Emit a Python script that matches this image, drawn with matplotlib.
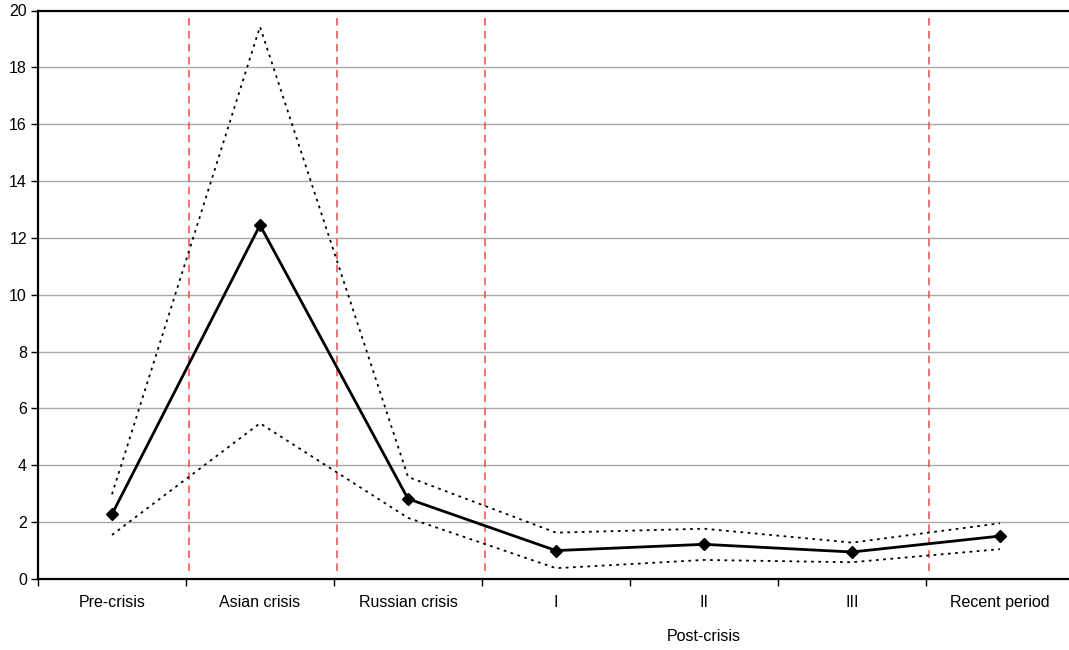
import matplotlib
matplotlib.use("Agg")
import matplotlib.pyplot as plt
import numpy as np

plt.rcParams['font.family'] = ['Liberation Sans', 'DejaVu Sans']

categories = ["Pre-crisis", "Asian crisis", "Russian crisis", "I", "II", "III", "Recent period"]
mean_vals = [2.28, 12.45, 2.82, 1.0, 1.22, 0.95, 1.51]
upper_vals = [2.98, 19.43, 3.59, 1.63, 1.77, 1.28, 1.96]
lower_vals = [1.55, 5.48, 2.15, 0.38, 0.67, 0.59, 1.05]
separators = [0.5, 1.5, 2.5, 5.5]
group_label = "Post-crisis"
yticks = list(range(0, 21, 2))

W, H = 1069, 650
fig = plt.figure(figsize=(W / 100, H / 100), dpi=100)
x0, x1 = 38, 1074
y_top, y_bot = 10.5, 579
ax = fig.add_axes([x0 / W, (H - y_bot) / H, (x1 - x0) / W, (y_bot - y_top) / H])

x = np.arange(len(categories))
ax.set_xlim(-0.5, len(categories) - 0.5)
ax.set_ylim(0, 20)

for yv in yticks[1:-1]:
    ax.axhline(yv, color='#a8a8a8', lw=1.0, zorder=1)

for s in separators:
    ax.plot([s + 0.02, s + 0.02], [0.28, 19.75], color='#ff4545', lw=1.1,
            dashes=(5, 3.5), zorder=2)

ax.plot(x, upper_vals, color='black', lw=1.3, ls=(0, (1.5, 2.5)), zorder=3)
ax.plot(x, lower_vals, color='black', lw=1.3, ls=(0, (1.5, 2.5)), zorder=3)
ax.plot(x, mean_vals, color='black', lw=2.0, marker='D', markersize=6, zorder=4)

ax.set_yticks(yticks)
ax.set_yticklabels([str(v) for v in yticks], fontsize=11.5)
ax.set_xticks(np.arange(-0.5, len(categories), 1.0))
ax.set_xticklabels([])
ax.tick_params(axis='x', direction='out', length=5, width=1, color='black')
ax.tick_params(axis='y', direction='out', length=5, width=1, color='black', pad=3)

for xi, lab in zip(x, categories):
    ax.text(xi, -23.5 / 28.43, lab, ha='center', va='center', fontsize=11.5,
            transform=ax.transData, clip_on=False)
ax.text(4, -58 / 28.43, group_label, ha='center', va='center', fontsize=11.5,
        transform=ax.transData, clip_on=False)

for side in ['left', 'top', 'bottom']:
    ax.spines[side].set_linewidth(1.6)
    ax.spines[side].set_color('black')
ax.spines['right'].set_visible(False)

fig.savefig("out.png", dpi=100)
